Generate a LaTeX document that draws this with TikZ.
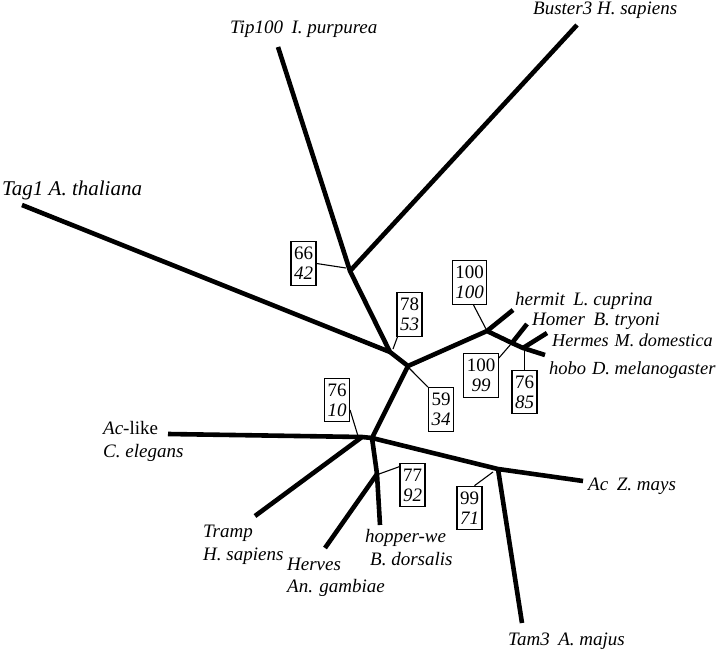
\documentclass[tikz,border=0pt]{standalone}
\usepackage{fontspec}
\setmainfont{Liberation Serif}
\newcommand\wgap{\hspace{0.45em}}
\begin{document}
\begin{tikzpicture}[x=1pt,y=-1pt,
  branch/.style={line width=4.6pt, line join=round},
  leader/.style={line width=1.1pt},
  bs/.style={draw, line width=1.1pt, align=center, inner xsep=3pt, inner ysep=5.5pt,
    font=\fontsize{19}{20}\selectfont},
  lab/.style={anchor=base west, inner sep=0pt, font=\fontsize{19}{22}\selectfont\itshape}]
\useasboundingbox (0,0) rectangle (720,650);
% tree points
\coordinate (A) at (390,352);
\coordinate (B) at (350,271);
\coordinate (C) at (408,366);
\coordinate (D) at (372,438);
\coordinate (E) at (362,437);
\coordinate (F) at (377,474);
\coordinate (G) at (498,469);
\coordinate (H) at (487,331);
\coordinate (I) at (512,343);
\coordinate (J) at (523,348);
\coordinate (tipE) at (278,47);
\coordinate (busE) at (577,25);
\coordinate (tagE) at (22,205);
\coordinate (herE) at (513,310);
\coordinate (homE) at (527,324);
\coordinate (hesE) at (547,333);
\coordinate (hobE) at (545,355);
\coordinate (aclE) at (168,434);
\coordinate (traE) at (255,516);
\coordinate (hvsE) at (325,548);
\coordinate (hopE) at (380,525);
\coordinate (aczE) at (583,481);
\coordinate (tamE) at (522,623);
% branches
\draw[branch] (tipE) -- (B) -- (A) -- (C) -- (H) -- (I) -- (J) -- (hobE);
\draw[branch] (busE) -- (B);
\draw[branch] (tagE) -- (A);
\draw[branch] (herE) -- (H);
\draw[branch] (homE) -- (I);
\draw[branch] (hesE) -- (J);
\draw[branch] (C) -- (D) -- (G) -- (aczE);
\draw[branch] (G) -- (tamE);
\draw[branch] (aclE) -- (E) -- (D) -- (F) -- (hopE);
\draw[branch] (traE) -- (E);
\draw[branch] (hvsE) -- (F);
% bootstrap boxes
\node[bs] (b66) at (303.5,263.5) {66\\\textit{42}};
\node[bs] (b78) at (409.5,314.5) {78\\\textit{53}};
\node[bs] (b100a) at (469.5,282.5) {100\\\textit{100}};
\node[bs] (b100b) at (481,375.5) {100\\\textit{99}};
\node[bs] (b7685) at (524.5,392) {76\\\textit{85}};
\node[bs] (b59) at (441,409.5) {59\\\textit{34}};
\node[bs] (b7610) at (337,400) {76\\\textit{10}};
\node[bs] (b77) at (412.5,485) {77\\\textit{92}};
\node[bs] (b99) at (469.5,508) {99\\\textit{71}};
% leader ends
\coordinate (l66) at (346,268);
\coordinate (l78) at (393,349);
\coordinate (l100a) at (486,329);
\coordinate (l100b) at (511,344);
\coordinate (l7685) at (524.5,349);
\coordinate (l59) at (409,368);
\coordinate (l7610) at (358,436);
\coordinate (l77) at (379,474);
\coordinate (l99) at (493,472);
\draw[leader] (b66.east) -- (l66);
\draw[leader] ([xshift=1pt]b78.south west) -- (l78);
\draw[leader] ([xshift=4pt]b100a.south) -- (l100a);
\draw[leader] ([yshift=-5pt]b100b.north east) -- (l100b);
\draw[leader] (b7685.north) -- (l7685);
\draw[leader] (b59.north west) -- (l59);
\draw[leader] ([yshift=-10pt]b7610.east) -- (l7610);
\draw[leader] ([yshift=-4pt]b77.north west) -- (l77);
\draw[leader] ([xshift=5pt]b99.north) -- (l99);
% labels
\node[lab] (tipL) at (230,34) {Tip100\wgap I. purpurea};
\node[lab] (busL) at (533,15) {Buster3 H. sapiens};
\node[lab, font=\fontsize{21}{24}\selectfont\itshape] (tagL) at (2,195) {Tag1 A. thaliana};
\node[lab] (herL) at (515,305) {hermit\wgap L. cuprina};
\node[lab] (homL) at (532,325) {Homer\wgap B. tryoni};
\node[lab, font=\fontsize{18.2}{22}\selectfont\itshape] (hesL) at (552,346) {Hermes\hspace{0.32em}M. domestica};
\node[lab, font=\fontsize{18.5}{22}\selectfont\itshape] (hobL) at (549,374) {hobo\hspace{0.32em}D. melanogaster};
\node[lab] (aclL) at (103,434) {Ac{\upshape -like}};
\node[lab] (aclL2) at (103,457) {C. elegans};
\node[lab] (traL) at (203,537) {Tramp};
\node[lab] (traL2) at (203,560) {H. sapiens};
\node[lab] (hvsL) at (287,570) {Herves};
\node[lab] (hvsL2) at (287,592) {An. gambiae};
\node[lab] (hopL) at (365,542) {hopper-we};
\node[lab] (hopL2) at (370,565) {B. dorsalis};
\node[lab] (aczL) at (588,490) {Ac\wgap Z. mays};
\node[lab] (tamL) at (508,645) {Tam3\wgap A. majus};
\end{tikzpicture}
\end{document}
